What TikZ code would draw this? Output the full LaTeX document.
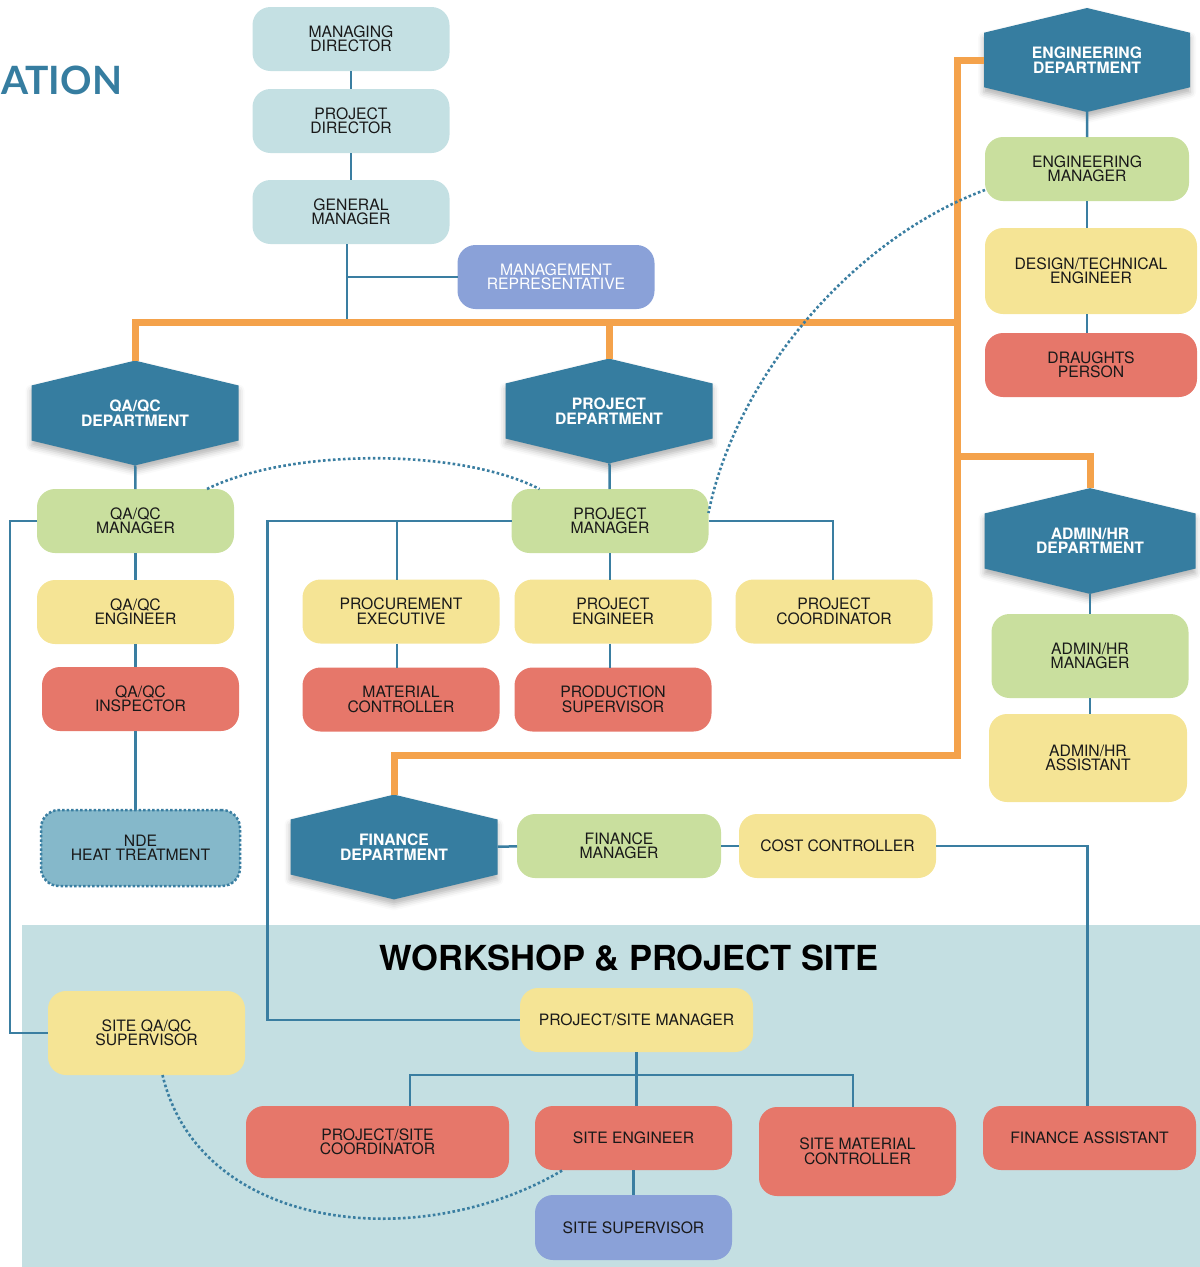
\documentclass[tikz,border=0pt]{standalone}
\usepackage{fontspec}
\setmainfont{TeX Gyre Heros}
\newfontfamily\headfont{Lato}
\usepackage{tikz}
\usetikzlibrary{positioning}
\usetikzlibrary{shapes.symbols}
\usetikzlibrary{shadows.blur}
\definecolor{topblue}{HTML}{C4E0E3}
\definecolor{mgrgreen}{HTML}{C9DF9E}
\definecolor{staffyellow}{HTML}{F5E495}
\definecolor{crewred}{HTML}{E6776A}
\definecolor{periwinkle}{HTML}{8AA1D8}
\definecolor{deptblue}{HTML}{367DA0}
\definecolor{ndeblue}{HTML}{85B8CA}
\definecolor{busorange}{HTML}{F4A24B}
\definecolor{linkblue}{HTML}{3A7EA1}
\definecolor{sitebg}{HTML}{C4DFE2}
\newcommand{\boxfont}{\fontsize{15.7}{14.5}\selectfont}
\tikzstyle{org_style}=[
	x=1pt,y=-1pt,
	box/.style={rectangle,rounded corners=18pt,minimum width=197pt,minimum height=64pt,inner sep=0pt,outer sep=0pt,align=center,text=black!90,font=\boxfont},
	top/.style={box,fill=topblue},
	mgr/.style={box,fill=mgrgreen},
	staff/.style={box,fill=staffyellow},
	crew/.style={box,fill=crewred},
	extra/.style={box,fill=periwinkle},
	nde/.style={box,fill=ndeblue,draw=linkblue,line width=2.5pt,dash pattern=on 2.5pt off 2pt},
	dept/.style={signal,signal to=north and south,signal pointer angle=153,minimum width=207pt,minimum height=81pt,inner sep=0pt,outer sep=0pt,fill=deptblue,align=center,text=white,font=\boxfont\bfseries,
		blur shadow={shadow xshift=0pt,shadow yshift=-5pt,shadow blur radius=6pt,shadow opacity=30}},
	link/.style={draw=linkblue,line width=2.5pt},
	bus/.style={draw=busorange,line width=7pt},
	dots/.style={draw=linkblue,line width=2.6pt,dash pattern=on 2.6pt off 2.4pt}
]

\begin{document}
\begin{tikzpicture}[org_style]
	\useasboundingbox (0,0) rectangle (1200,1267);
	
	%site area
	\fill[sitebg] (22,925) rectangle (1200,1267);
	\node[font=\headfont\bfseries\fontsize{39}{42}\selectfont,text=deptblue,anchor=west,inner sep=0pt] (ttl) at (1,80) {ATION};
	\node[font=\fontsize{34.5}{38}\selectfont\bfseries,inner sep=0pt] (site) at (629,958) {WORKSHOP \& PROJECT SITE};
	
	%top management
	\node[top] (md) at (351,39) {MANAGING\\DIRECTOR};
	\node[top,below=18pt of md] (pdir) {PROJECT\\DIRECTOR};
	\node[top,below=27pt of pdir] (gm) {GENERAL\\MANAGER};
	\node[extra,text=white] (mr) at (556,277) {MANAGEMENT\\REPRESENTATIVE};
	
	%departments
	\node[dept] (qad) at (135,413) {QA/QC\\DEPARTMENT};
	\node[dept] (pd) at (609,411) {PROJECT\\DEPARTMENT};
	\node[dept,minimum width=206pt] (ed) at (1087,60) {ENGINEERING\\DEPARTMENT};
	\node[dept,minimum width=211pt] (ad) at (1090,541) {ADMIN/HR\\DEPARTMENT};
	\node[dept] (fd) at (394,847) {FINANCE\\DEPARTMENT};
	
	%qa/qc
	\node[mgr] (qam) at (135.5,521) {QA/QC\\MANAGER};
	\node[staff,below=27pt of qam] (qae) {QA/QC\\ENGINEER};
	\node[crew] (qai) at (140.5,699) {QA/QC\\INSPECTOR};
	\node[nde,minimum width=199pt,minimum height=76pt] (ndt) at (140.5,848) {NDE\\HEAT TREATMENT};
	
	%project
	\node[mgr] (pm) at (610,521) {PROJECT\\MANAGER};
	\node[staff] (proc) at (401,611.5) {PROCUREMENT\\EXECUTIVE};
	\node[staff] (pe) at (613,611.5) {PROJECT\\ENGINEER};
	\node[staff] (pc) at (834,611.5) {PROJECT\\COORDINATOR};
	\node[crew,below=24pt of proc] (mc) {MATERIAL\\CONTROLLER};
	\node[crew,below=24pt of pe] (ps) {PRODUCTION\\SUPERVISOR};
	
	%engineering
	\node[mgr,minimum width=204pt] (em) at (1087,169) {ENGINEERING\\MANAGER};
	\node[staff,minimum width=212pt,minimum height=86pt] (dte) at (1091,271) {DESIGN/TECHNICAL\\ENGINEER};
	\node[crew,minimum width=212pt] (dp) at (1091,365) {DRAUGHTS\\PERSON};
	
	%admin
	\node[mgr,minimum height=84pt] (am) at (1090,656) {ADMIN/HR\\MANAGER};
	\node[staff,minimum width=198pt,minimum height=88pt] (aa) at (1088,758) {ADMIN/HR\\ASSISTANT};
	
	%finance
	\node[mgr,minimum width=204pt] (fm) at (619,846) {FINANCE\\MANAGER};
	\node[staff] (cc) at (837.5,846) {COST CONTROLLER};
	
	%site
	\node[staff,minimum height=84pt] (sqa) at (146.5,1033) {SITE QA/QC\\SUPERVISOR};
	\node[staff,minimum width=233pt] (psm) at (636.5,1020) {PROJECT/SITE MANAGER};
	\node[crew,minimum width=263pt,minimum height=72pt] (psc) at (377.5,1142) {PROJECT/SITE\\COORDINATOR};
	\node[crew] (se) at (633.5,1138) {SITE ENGINEER};
	\node[extra,minimum height=65pt] (ss) at (633.5,1227.5) {SITE SUPERVISOR};
	\node[crew,minimum height=89pt] (smc) at (857.5,1151.5) {SITE MATERIAL\\CONTROLLER};
	\node[crew,minimum width=213pt] (fa) at (1089.5,1138) {FINANCE ASSISTANT};
	
	%junctions
	\coordinate (hub) at (957,322);
	\coordinate (tap) at (957,456);
	\coordinate (spine) at (957,755);
	
	\path[link] (md) edge (pdir)
	(pdir) edge (gm)
	(qad) edge (qam)
	(qam) edge (qae)
	(pd) edge (pm)
	(ed) edge (em)
	(ad) edge (am)
	(fd) edge (fm)
	(fm) edge (cc)
	(se) edge (ss);
	
	\draw[link] ([xshift=-4pt]gm.south) -- ([xshift=-4pt]gm.south |- hub);
	\draw[link] (mr.west) -- ([xshift=-4pt]mr.west -| gm.south);
	\draw[link] (qae.south) -- (qae.south |- qai.north);
	\draw[link] (qae.south |- qai.south) -- (qae.south |- ndt.north);
	\draw[link] (qam.west) -- ++(-27,0) |- (sqa.west);
	\draw[link] (pm.west) -| ([xshift=-4pt]proc.north);
	\draw[link] ([xshift=-4pt]proc.south) -- ([xshift=-4pt]mc.north);
	\draw[link] (pm.south) -- (pm.south |- pe.north);
	\draw[link] (pm.south |- pe.south) -- (pm.south |- ps.north);
	\draw[link] (pm.east) -| ([xshift=-1pt]pc.north);
	\draw[link] (pm.west) -- ++(-244,0) |- (psm.west);
	\draw[link] (em.south) -- (em.south |- dte.north);
	\draw[link] (em.south |- dte.south) -- (em.south |- dp.north);
	\draw[link] (am.south) -- (am.south |- aa.north);
	\draw[link] (cc.east) -| ([xshift=-2pt]fa.north);
	\draw[link] (psm.south) -- (psm.south |- se.north);
	\draw[link] ([xshift=32.5pt]psc.north) -- ++(0,-31) -| ([xshift=-4.5pt]smc.north);
	
	\draw[bus] (qad.north) |- (hub);
	\draw[bus] (pd.north) -- (pd.north |- hub);
	\draw[bus] (ed.west) -| (spine) -| (fd.north);
	\draw[bus] (tap) -| (ad.north);
	
	%dotted ties
	\draw[dots] ([xshift=-27pt]qam.north east) .. controls (290,448) and (460,448) .. ([xshift=28pt]pm.north west);
	\draw[dots] ([yshift=11pt]em.south west) .. controls (850,240) and (735,380) .. ([yshift=8pt]pm.east);
	\draw[dots] ([xshift=16pt]sqa.south) .. controls (200,1232) and (420,1255) .. ([xshift=28pt]se.south west);
	
\end{tikzpicture}
\end{document}
